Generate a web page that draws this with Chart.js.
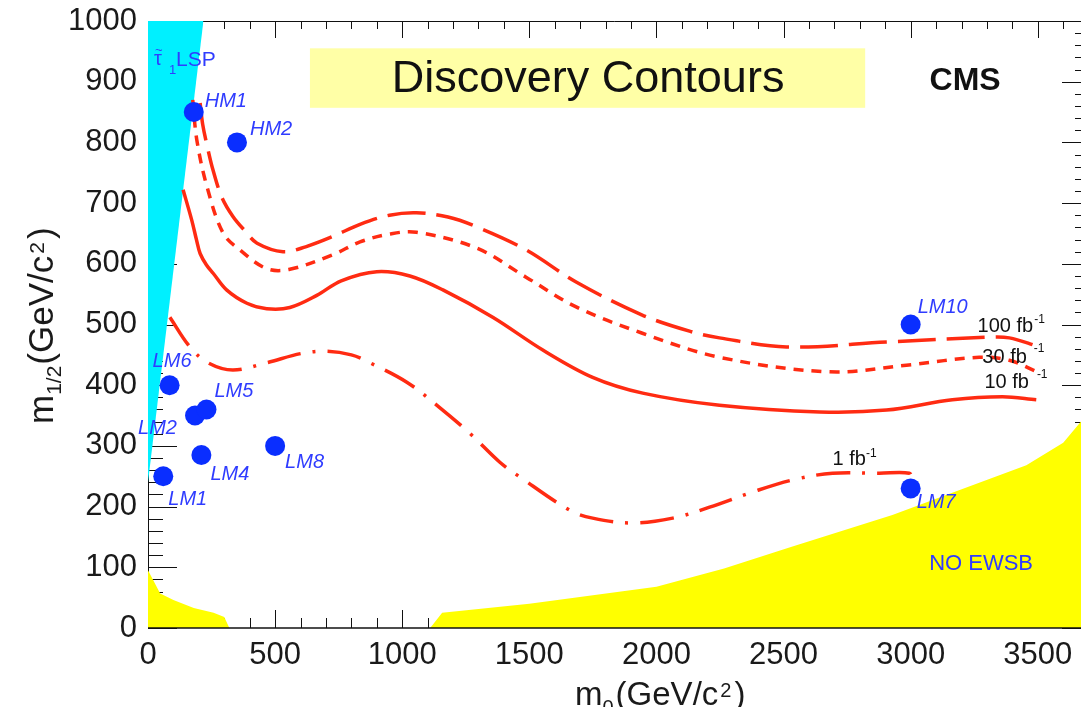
<!DOCTYPE html>
<html>
<head>
<meta charset="utf-8">
<script src="https://cdn.jsdelivr.net/npm/chart.js@4.4.0/dist/chart.umd.min.js"></script>
<style>
  html, body { margin: 0; padding: 0; background: #fff; overflow: hidden; }
</style>
</head>
<body>
<canvas id="grafico" width="1081" height="707"></canvas>
<script>
// ------------ Dados ------------ //

// contorno 100 fb-1 (tracejado longo)
var c100_m0  = [205, 215, 235, 256, 290, 334, 380, 429, 531, 620, 727, 834, 950, 1056, 1180, 1292, 1487, 1684, 1942, 2138, 2248, 2512, 2905, 3298, 3388, 3500];
var c100_m12 = [865, 830, 790, 754, 710, 678, 655, 634, 620, 628, 645, 665, 680, 684, 677, 661, 623, 570, 516, 488, 478, 463, 471, 479, 478, 464];

// contorno 30 fb-1 (tracejado curto)
var c30_m0  = [176, 192, 232, 295, 361, 467, 558, 727, 834, 950, 1056, 1292, 1487, 1684, 1942, 2248, 2680, 2983, 3270, 3388, 3498];
var c30_m12 = [870, 804, 727, 651, 623, 592, 591, 615, 636, 649, 652, 626, 578, 529, 486, 446, 422, 433, 446, 441, 422];

// contorno 10 fb-1 (linha cheia)
var c10_m0  = [138, 172, 191, 205, 230, 257, 309, 389, 467, 558, 664, 760, 900, 1030, 1160, 1356, 1553, 1749, 1946, 2248, 2642, 2905, 3164, 3361, 3494];
var c10_m12 = [722, 672, 639, 617, 598, 584, 557, 535, 526, 528, 548, 572, 587, 580, 557, 512, 458, 413, 387, 367, 356, 359, 376, 381, 376];

// contorno 1 fb-1 (traco-ponto)
var c1_m0  = [86, 165, 236, 334, 467, 600, 700, 800, 873, 1018, 1145, 1265, 1384, 1462, 1659, 1749, 1906, 2064, 2209, 2378, 2536, 2693, 2877, 2995, 3005];
var c1_m12 = [512, 463, 437, 425, 437, 452, 456, 450, 437, 405, 364, 321, 273, 249, 194, 181, 173, 181, 199, 224, 244, 255, 255, 255, 245];

// regiao stau LSP (ciano)
var stau_m0  = [0, 218];
var stau_m12 = [240, 1000];

// regioes sem EWSB (amarelo)
var ewsbA_m0  = [0, 48, 100, 180, 258, 300, 320];
var ewsbA_m12 = [95, 57, 46, 33, 25, 18, 0];
var ewsbB_m0  = [1110, 1157, 1500, 2000, 2266, 2532, 2928, 3190, 3455, 3600, 3670];
var ewsbB_m12 = [0, 25, 40, 68, 98, 134, 186, 227, 268, 305, 340];

// pontos de referencia
var pontos_nome = ['LM1', 'LM2', 'LM4', 'LM5', 'LM6', 'LM7', 'LM8', 'LM10', 'HM1', 'HM2'];
var pontos_m0   = [60, 185, 210, 230, 85, 3000, 500, 3000, 180, 350];
var pontos_m12  = [250, 350, 285, 360, 400, 230, 300, 500, 850, 800];

// ticks
var ticks_m0  = [0, 500, 1000, 1500, 2000, 2500, 3000, 3500];
var ticks_m12 = [0, 100, 200, 300, 400, 500, 600, 700, 800, 900, 1000];

function juntar(xs, ys) {
    return xs.map(function (v, i) { return { x: v, y: ys[i] }; });
}

var FONTE = '"Liberation Sans", Arial, Helvetica, sans-serif';
var VERMELHO = '#ff2b12';
var AZUL = '#0a2eff';
var AZUL_TXT = '#2f3cff';

// ------------ Marcas dos eixos (por baixo das regioes) ------------ //

var marcasEixos = {
    id: 'marcasEixos',
    beforeDatasetsDraw: function (chart) {
        var ctx = chart.ctx, a = chart.chartArea, sx = chart.scales.x, sy = chart.scales.y;
        ctx.save();
        ctx.strokeStyle = '#111';
        ctx.lineWidth = 1;
        ctx.beginPath();
        ctx.moveTo(a.left + 0.5, a.bottom);
        ctx.lineTo(a.left + 0.5, a.top + 0.5);
        ctx.lineTo(a.right, a.top + 0.5);
        for (var v = 0; v <= sx.max; v += 100) {
            var px = Math.round(sx.getPixelForValue(v)) + 0.5;
            var maior = v % 500 === 0;
            ctx.moveTo(px, a.bottom);
            ctx.lineTo(px, a.bottom - (maior ? 18 : 10));
            ctx.moveTo(px, a.top);
            ctx.lineTo(px, a.top + (maior ? 17 : 8));
        }
        for (var w = 0; w <= sy.max; w += 20) {
            var py = Math.round(sy.getPixelForValue(w)) + 0.5;
            var grande = w % 100 === 0;
            ctx.moveTo(a.left, py);
            ctx.lineTo(a.left + (grande ? 29 : 15), py);
            ctx.moveTo(a.right, py);
            ctx.lineTo(a.right - (grande ? 19 : 6), py);
        }
        ctx.stroke();
        ctx.restore();
    },
    afterDatasetsDraw: function (chart) {
        var ctx = chart.ctx, a = chart.chartArea;
        ctx.save();
        ctx.strokeStyle = '#111';
        ctx.lineWidth = 1.5;
        ctx.beginPath();
        ctx.moveTo(a.left, a.bottom);
        ctx.lineTo(a.right, a.bottom);
        ctx.stroke();
        ctx.restore();
    }
};

// ------------ Textos e rotulos ------------ //

// deslocamento do rotulo em relacao ao ponto (px)
var rotuloDesloc = {
    LM1: [5, 29], LM2: [-57, 18], LM4: [9, 25], LM5: [8, -12], LM6: [-17, -18],
    LM7: [6, 20], LM8: [10, 22], LM10: [7, -12], HM1: [11, -5], HM2: [13, -7]
};

function textoComExpoente(ctx, base, exp, x, y, tam, sobe, espaco) {
    ctx.font = tam + 'px ' + FONTE;
    ctx.textAlign = 'left';
    ctx.fillText(base, x, y);
    var w = ctx.measureText(base).width;
    ctx.font = Math.round(tam * 0.62) + 'px ' + FONTE;
    ctx.fillText(exp, x + w + (espaco || 0), y - sobe);
}

var textos = {
    id: 'textos',
    afterDatasetsDraw: function (chart) {
        var ctx = chart.ctx, sx = chart.scales.x, sy = chart.scales.y;
        var X = function (v) { return sx.getPixelForValue(v); };
        var Y = function (v) { return sy.getPixelForValue(v); };
        ctx.save();
        ctx.textBaseline = 'alphabetic';

        // caixa do titulo
        ctx.fillStyle = '#ffffa6';
        ctx.fillRect(X(637), Y(955), X(2821) - X(637), Y(857) - Y(955));
        ctx.fillStyle = '#111';
        ctx.font = '45px ' + FONTE;
        ctx.textAlign = 'center';
        ctx.fillText('Discovery Contours', X(1731), Y(883));

        ctx.font = 'bold 32px ' + FONTE;
        ctx.fillText('CMS', X(3214), Y(886));

        // luminosidades
        ctx.fillStyle = '#111';
        textoComExpoente(ctx, '100 fb', '-1', X(3263), Y(488), 20, 9, 1);
        textoComExpoente(ctx, '30 fb', '-1', X(3282), Y(437), 20, 11, 7);
        textoComExpoente(ctx, '10 fb', '-1', X(3290), Y(395), 20, 10, 8);
        textoComExpoente(ctx, '1 fb', '-1', X(2693), Y(269), 20, 8, 0);

        // stau LSP
        ctx.fillStyle = AZUL_TXT;
        ctx.font = '20px ' + FONTE;
        ctx.textAlign = 'left';
        var tx = X(24), ty = Y(927);
        ctx.fillText('\u03c4', tx, ty);
        ctx.font = '13px ' + FONTE;
        ctx.fillText('~', tx + 1, ty - 11);
        ctx.fillText('1', tx + 15, ty + 9);
        ctx.font = '21px ' + FONTE;
        ctx.fillText('LSP', tx + 22, ty + 1);

        // NO EWSB
        ctx.font = '22px ' + FONTE;
        ctx.textAlign = 'center';
        ctx.fillText('NO EWSB', X(3277), Y(96));

        // nomes dos pontos
        ctx.font = 'italic 20px ' + FONTE;
        ctx.textAlign = 'left';
        pontos_nome.forEach(function (n, i) {
            var d = rotuloDesloc[n];
            ctx.fillText(n, X(pontos_m0[i]) + d[0], Y(pontos_m12[i]) + d[1]);
        });
        ctx.restore();
    },
    afterDraw: function (chart) {
        var ctx = chart.ctx;
        ctx.save();
        ctx.fillStyle = '#1a1a1a';
        ctx.textAlign = 'left';
        ctx.textBaseline = 'alphabetic';

        // titulo do eixo x: m0(GeV/c2)
        var x = 575, y = 705;
        ctx.font = '33px ' + FONTE;
        ctx.fillText('m', x, y); x += ctx.measureText('m').width;
        ctx.font = '20px ' + FONTE;
        ctx.fillText('0', x, y + 9); x += ctx.measureText('0').width + 2;
        ctx.font = '33px ' + FONTE;
        ctx.fillText('(GeV/c', x, y); x += ctx.measureText('(GeV/c').width + 2;
        ctx.font = '20px ' + FONTE;
        ctx.fillText('2', x, y - 8); x += ctx.measureText('2').width + 3;
        ctx.font = '33px ' + FONTE;
        ctx.fillText(')', x, y);

        // titulo do eixo y: m1/2(GeV/c2)
        ctx.translate(53, 424);
        ctx.rotate(-Math.PI / 2);
        x = 0; y = 0;
        ctx.font = '35px ' + FONTE;
        ctx.fillText('m', x, y); x += ctx.measureText('m').width;
        ctx.font = '21px ' + FONTE;
        ctx.fillText('1/2', x, y + 8); x += ctx.measureText('1/2').width + 1;
        ctx.font = '35px ' + FONTE;
        ctx.fillText('(GeV/c', x, y); x += ctx.measureText('(GeV/c').width + 2;
        ctx.font = '21px ' + FONTE;
        ctx.fillText('2', x, y - 9); x += ctx.measureText('2').width + 3;
        ctx.font = '35px ' + FONTE;
        ctx.fillText(')', x, y);
        ctx.restore();
    }
};

// ------------ Grafico ------------ //

function contorno(xs, ys, tracejado) {
    return {
        data: juntar(xs, ys),
        showLine: true,
        borderColor: VERMELHO,
        borderWidth: 3.5,
        borderDash: tracejado,
        borderCapStyle: 'butt',
        tension: 0.35,
        pointRadius: 0,
        fill: false,
        order: 2
    };
}

function regiao(xs, ys, cor, alvo) {
    return {
        data: juntar(xs, ys),
        showLine: true,
        borderWidth: 0,
        borderColor: cor,
        backgroundColor: cor,
        pointRadius: 0,
        tension: 0,
        fill: alvo,
        order: 3
    };
}

// eixo com tamanho fixo e sem folga extra para os rotulos
function semFolga(s) {
    s.paddingTop = 0;
    s.paddingBottom = 0;
    s.paddingLeft = 0;
    s.paddingRight = 0;
}

var ctx = document.getElementById('grafico').getContext('2d');
var grafico = new Chart(ctx, {
    type: 'scatter',
    data: {
        datasets: [
            regiao(stau_m0, stau_m12, '#00f0ff', 'end'),
            regiao(ewsbA_m0, ewsbA_m12, '#ffff00', 'origin'),
            regiao(ewsbB_m0, ewsbB_m12, '#ffff00', 'origin'),
            contorno(c100_m0, c100_m12, [38, 11]),
            contorno(c30_m0, c30_m12, [10, 8]),
            contorno(c10_m0, c10_m12, []),
            contorno(c1_m0, c1_m12, [34, 12, 3, 12]),
            {
                data: juntar(pontos_m0, pontos_m12),
                pointRadius: 10,
                pointBackgroundColor: AZUL,
                pointBorderWidth: 0,
                order: 1
            }
        ]
    },
    options: {
        responsive: false,
        animation: false,
        events: [],
        layout: { autoPadding: false, padding: { top: 21, right: 0, left: 0, bottom: 0 } },
        plugins: {
            legend: { display: false },
            tooltip: { enabled: false }
        },
        scales: {
            x: {
                type: 'linear',
                min: 0,
                max: 3670,
                grid: { display: false, drawTicks: false },
                border: { display: false },
                ticks: {
                    font: { family: FONTE, size: 31 },
                    color: '#1a1a1a',
                    padding: 9,
                    maxRotation: 0,
                    callback: function (v) { return String(v); }
                },
                afterBuildTicks: function (s) {
                    s.ticks = ticks_m0.map(function (v) { return { value: v }; });
                },
                afterFit: function (s) { s.height = 79; semFolga(s); }
            },
            y: {
                type: 'linear',
                min: 0,
                max: 1000,
                grid: { display: false, drawTicks: false },
                border: { display: false },
                ticks: {
                    font: { family: FONTE, size: 31 },
                    color: '#1a1a1a',
                    padding: 11,
                    callback: function (v) { return String(v); }
                },
                afterBuildTicks: function (s) {
                    s.ticks = ticks_m12.map(function (v) { return { value: v }; });
                },
                afterFit: function (s) { s.width = 148; semFolga(s); }
            }
        }
    },
    plugins: [marcasEixos, textos]
});
</script>
</body>
</html>
